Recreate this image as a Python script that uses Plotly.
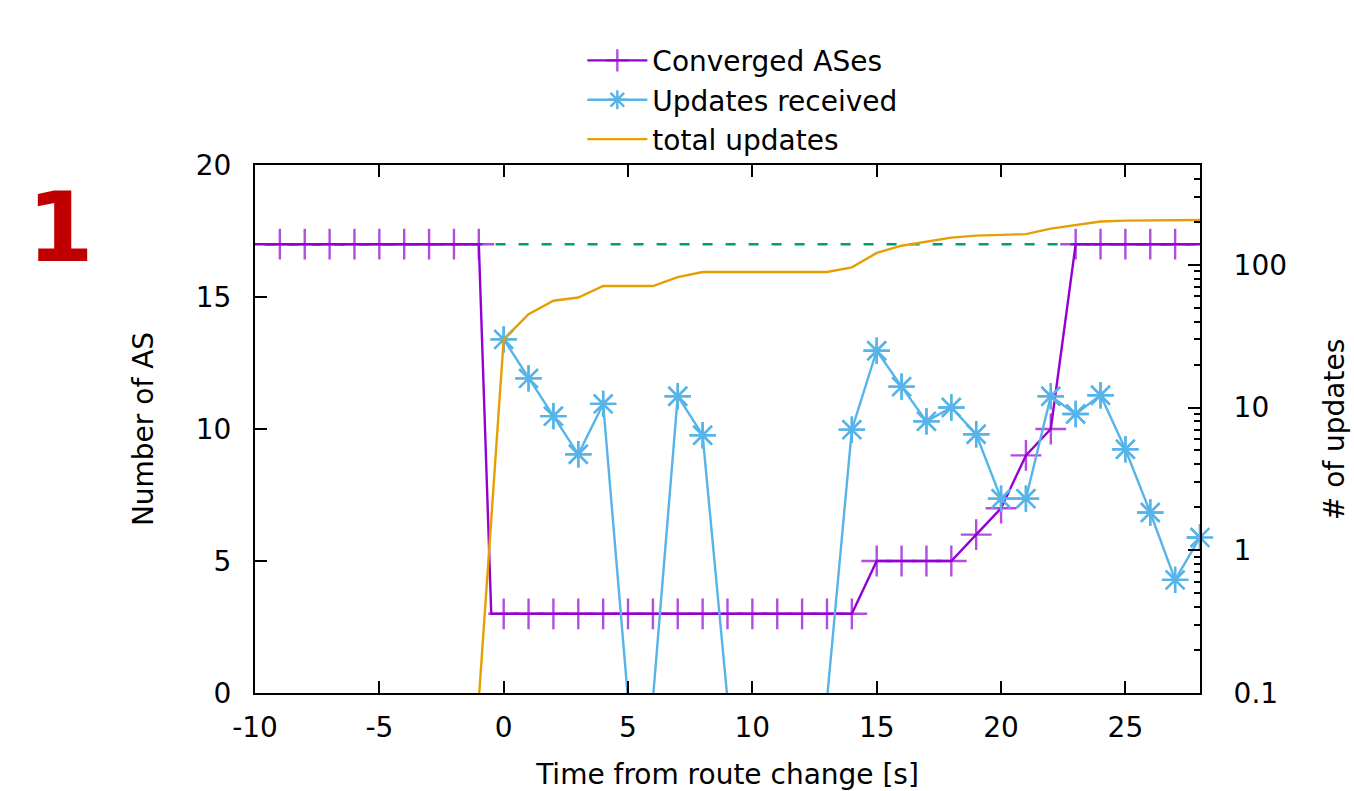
import plotly.graph_objects as go

# ---------------- data ----------------
conv_time = [-10.5, -9, -8, -7, -6, -5, -4, -3, -2, -1, -0.5,
             0, 1, 2, 3, 4, 5, 6, 7, 8, 9, 10, 11, 12, 13, 14,
             15, 16, 17, 18, 19, 20, 21, 22, 23, 24, 25, 26, 27, 28.5]
conv_ases = [17, 17, 17, 17, 17, 17, 17, 17, 17, 17, 3,
             3, 3, 3, 3, 3, 3, 3, 3, 3, 3, 3, 3, 3, 3, 3,
             5, 5, 5, 5, 6, 7, 9, 10, 17, 17, 17, 17, 17, 17]

upd_time = [0, 1, 2, 3, 4, 5, 6, 7, 8, 9, 10, 11, 12, 13, 14,
            15, 16, 17, 18, 19, 20, 21, 22, 23, 24, 25, 26, 27, 28]
upd_recv = [30, 16, 8.7, 4.7, 10.6, 0.09, 0.09, 12, 6.4, 0.09, 0.09, 0.09, 0.09, 0.09, 7,
            25, 14, 8, 10, 6.5, 2.3, 2.3, 12, 9, 12.2, 5.1, 1.84, 0.62, 1.23]

tot_time = [-1, 0, 1, 2, 3, 4, 5, 6, 7, 8, 9, 10, 11, 12, 13, 14,
            15, 16, 17, 18, 19, 20, 21, 22, 23, 24, 25, 26, 27, 28]
tot_upd = [0.09, 30, 45, 56, 59, 71, 71, 71, 82, 89, 89, 89, 89, 89, 89, 96,
           121, 136, 145, 155, 160, 162, 164, 179, 189, 201, 204, 205, 206, 206]

ref_time = [-10.5, 28.5]
ref_level = [17, 17]

x_ticks = [-10, -5, 0, 5, 10, 15, 20, 25]
x_ticklabels = ["-10", "-5", "0", "5", "10", "15", "20", "25"]
y_ticks = [0, 5, 10, 15, 20]
y2_ticks = [0.1, 1, 10, 100]
y2_ticklabels = ["0.1", "1", "10", "100"]

# ---------------- style ----------------
PURPLE = "#9400D3"
BLUE = "#56B4E9"
ORANGE = "#E69F00"
GREEN = "#009E73"
FONT = "DejaVu Sans"
FS = 28
LW = 2.4

fig = go.Figure()

# green dashed reference line (left axis)
fig.add_trace(go.Scatter(x=ref_time, y=ref_level, mode="lines", yaxis="y",
                         line=dict(color=GREEN, width=LW, dash="10px,13px"),
                         showlegend=False, hoverinfo="skip"))

# Converged ASes
conv_sizes = [22 if float(t).is_integer() else 0 for t in conv_time]
fig.add_trace(go.Scatter(x=conv_time, y=conv_ases, mode="lines+markers", yaxis="y",
                         name="Converged ASes",
                         line=dict(color=PURPLE, width=LW),
                         marker=dict(symbol="cross-thin-open", size=conv_sizes,
                                     line=dict(color=PURPLE, width=LW), color=PURPLE)))

# Updates received (right log axis)
fig.add_trace(go.Scatter(x=upd_time, y=upd_recv, mode="lines+markers", yaxis="y2",
                         name="Updates received",
                         line=dict(color=BLUE, width=LW),
                         marker=dict(symbol="asterisk-open", size=22,
                                     line=dict(color=BLUE, width=LW), color=BLUE)))
# unclipped markers for in-range points (so the edge marker is full)
vis_t = [t for t, v in zip(upd_time, upd_recv) if v >= 0.1]
vis_v = [v for v in upd_recv if v >= 0.1]
fig.add_trace(go.Scatter(x=vis_t, y=vis_v, mode="markers", yaxis="y2",
                         showlegend=False, cliponaxis=False, hoverinfo="skip",
                         marker=dict(symbol="asterisk-open", size=22,
                                     line=dict(color=BLUE, width=LW), color=BLUE)))

# total updates
fig.add_trace(go.Scatter(x=tot_time, y=tot_upd, mode="lines", yaxis="y2",
                         name="total updates",
                         line=dict(color=ORANGE, width=LW)))

axis_common = dict(showgrid=False, zeroline=False, showline=True, linecolor="black",
                   linewidth=2, ticks="inside", tickcolor="black", tickwidth=2,
                   automargin=False,
                   tickfont=dict(family=FONT, size=FS, color="black"))

fig.update_layout(
    width=1354, height=791, autosize=False,
    paper_bgcolor="white", plot_bgcolor="white",
    margin=dict(l=255, r=154, t=165, b=98),
    font=dict(family=FONT, size=FS, color="black"),
    hovermode=False,
    xaxis=dict(range=[-10, 28], tickmode="array", tickvals=x_ticks, ticktext=x_ticklabels,
               ticklen=12, mirror="ticks", ticklabelstandoff=8,
               title=dict(text="Time from route change [s]", standoff=24,
                          font=dict(family=FONT, size=FS, color="black")),
               **axis_common),
    yaxis=dict(range=[0, 20], tickmode="array", tickvals=y_ticks, ticklen=12,
               ticklabelstandoff=16,
               title=dict(text="Number of AS", standoff=34,
                          font=dict(family=FONT, size=FS, color="black")),
               **axis_common),
    yaxis2=dict(type="log", range=[-1, 2.699], overlaying="y", side="right",
                tickmode="array", tickvals=y2_ticks, ticktext=y2_ticklabels,
                ticklen=12, ticklabelstandoff=26,
                minor=dict(ticks="inside", ticklen=6, tickcolor="black", tickwidth=2,
                           showgrid=False, dtick="D1"),
                **axis_common),
    legend=dict(x=0.685, xanchor="right", y=1.245, yanchor="top",
                bgcolor="rgba(0,0,0,0)", font=dict(family=FONT, size=FS, color="black"),
                itemwidth=60, tracegroupgap=0),
    annotations=[
        dict(text="<b>1</b>", xref="paper", yref="paper",
             x=-0.243, y=0.99, showarrow=False,
             font=dict(family=FONT, size=96, color="#C00000")),
        dict(text="# of updates", xref="paper", yref="paper",
             x=1.142, y=0.5, xanchor="center", yanchor="middle",
             textangle=-90, showarrow=False,
             font=dict(family=FONT, size=FS, color="black")),
    ],
)

fig.write_html("out.html", post_script="document.body.style.margin='0';",
               config={"displayModeBar": False})
